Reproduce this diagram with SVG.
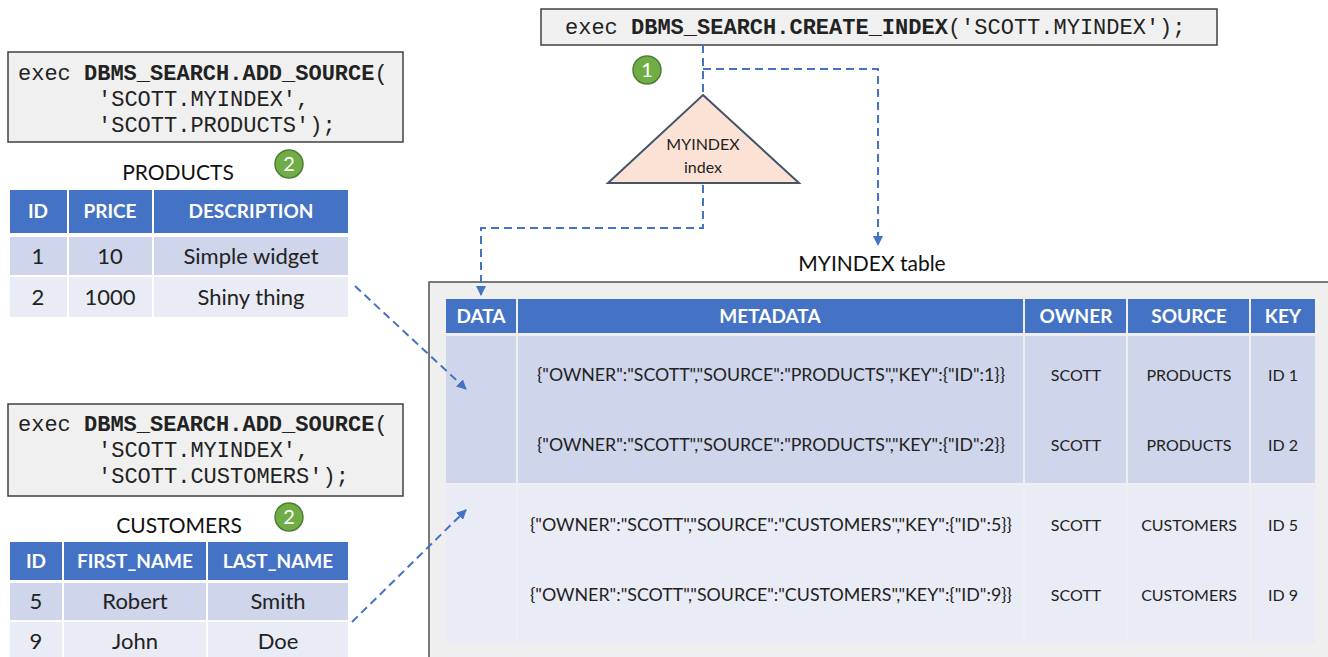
<svg xmlns="http://www.w3.org/2000/svg" width="1328" height="657" viewBox="0 0 1328 657">
<style>
.code{fill:#f0f0f0;stroke:#404040;stroke-width:1.5}
.mono{font-family:"Liberation Mono","Courier New",monospace;font-size:22px;fill:#222}
.b{font-weight:bold}
.lbl{font-family:Lato,"Open Sans",sans-serif;font-size:21px;fill:#111;text-anchor:middle}
.hdr{fill:#4472c4}
.ht{font-family:Lato,"Open Sans",sans-serif;font-size:19px;font-weight:bold;fill:#fff;text-anchor:middle}
.r1{fill:#cfd5ea}
.r2{fill:#e9ebf5}
.ct{font-family:Lato,"Open Sans",sans-serif;font-size:22px;fill:#222;text-anchor:middle}
.mt{font-family:Lato,"Open Sans",sans-serif;font-size:16px;fill:#222;text-anchor:middle}
.md{font-family:Lato,"Open Sans",sans-serif;font-size:17px;fill:#222;text-anchor:middle}
.green{fill:#70ad47;stroke:#507e32;stroke-width:1.5}
.gt{font-family:Lato,"Open Sans",sans-serif;font-size:20px;fill:#fff;text-anchor:middle}
.dash{fill:none;stroke:#4472c4;stroke-width:2;stroke-dasharray:8 5}
</style>
<defs>
<marker id="ah" viewBox="0 0 10 10" refX="9" refY="5" markerWidth="5" markerHeight="5" orient="auto">
<path d="M0,0 L10,5 L0,10 z" fill="#4472c4"/>
</marker>
</defs>

<g id="create-index">
<rect class="code" x="541" y="9" width="676" height="36"/>
<text class="mono" x="565" y="34">exec <tspan class="b">DBMS_SEARCH.CREATE_INDEX</tspan>('SCOTT.MYINDEX');</text>
</g>

<g id="step1">
<circle class="green" cx="647" cy="70" r="14"/>
<text class="gt" x="647" y="77">1</text>
</g>

<g id="myindex-index">
<polygon points="703,95 799,183 608,183" fill="#fbe2d5" stroke="#44546a" stroke-width="2"/>
<text class="mt" x="703" y="150">MYINDEX</text>
<text class="mt" x="703" y="173">index</text>
</g>

<g id="add-products">
<rect class="code" x="8" y="52" width="395" height="90"/>
<text class="mono" x="18" y="80">exec <tspan class="b">DBMS_SEARCH.ADD_SOURCE</tspan>(</text>
<text class="mono" x="98" y="106">'SCOTT.MYINDEX',</text>
<text class="mono" x="98" y="132">'SCOTT.PRODUCTS');</text>
</g>

<g id="products">
<text class="lbl" x="178" y="180">PRODUCTS</text>
<circle class="green" cx="289" cy="164" r="14"/>
<text class="gt" x="289" y="171">2</text>
<rect class="hdr" x="10" y="190" width="57" height="43"/>
<rect class="hdr" x="69" y="190" width="83" height="43"/>
<rect class="hdr" x="154" y="190" width="194" height="43"/>
<text class="ht" x="38" y="218">ID</text>
<text class="ht" x="110" y="218">PRICE</text>
<text class="ht" x="251" y="218">DESCRIPTION</text>
<rect class="r1" x="10" y="237" width="57" height="38"/>
<rect class="r1" x="69" y="237" width="83" height="38"/>
<rect class="r1" x="154" y="237" width="194" height="38"/>
<rect class="r2" x="10" y="277" width="57" height="40"/>
<rect class="r2" x="69" y="277" width="83" height="40"/>
<rect class="r2" x="154" y="277" width="194" height="40"/>
<text class="ct" x="38" y="264">1</text>
<text class="ct" x="110" y="264">10</text>
<text class="ct" x="251" y="264">Simple widget</text>
<text class="ct" x="38" y="305">2</text>
<text class="ct" x="110" y="305">1000</text>
<text class="ct" x="251" y="305">Shiny thing</text>
</g>

<g id="add-customers">
<rect class="code" x="8" y="404" width="395" height="92"/>
<text class="mono" x="18" y="431">exec <tspan class="b">DBMS_SEARCH.ADD_SOURCE</tspan>(</text>
<text class="mono" x="98" y="457">'SCOTT.MYINDEX',</text>
<text class="mono" x="98" y="483">'SCOTT.CUSTOMERS');</text>
</g>

<g id="customers">
<text class="lbl" x="179" y="533">CUSTOMERS</text>
<circle class="green" cx="289" cy="517" r="14"/>
<text class="gt" x="289" y="524">2</text>
<rect class="hdr" x="10" y="542" width="52" height="38"/>
<rect class="hdr" x="64" y="542" width="142" height="38"/>
<rect class="hdr" x="208" y="542" width="140" height="38"/>
<text class="ht" x="36" y="568">ID</text>
<text class="ht" x="135" y="568">FIRST_NAME</text>
<text class="ht" x="278" y="568">LAST_NAME</text>
<rect class="r1" x="10" y="583" width="52" height="37"/>
<rect class="r1" x="64" y="583" width="142" height="37"/>
<rect class="r1" x="208" y="583" width="140" height="37"/>
<rect class="r2" x="10" y="622" width="52" height="40"/>
<rect class="r2" x="64" y="622" width="142" height="40"/>
<rect class="r2" x="208" y="622" width="140" height="40"/>
<text class="ct" x="36" y="609">5</text>
<text class="ct" x="135" y="609">Robert</text>
<text class="ct" x="278" y="609">Smith</text>
<text class="ct" x="36" y="649">9</text>
<text class="ct" x="135" y="649">John</text>
<text class="ct" x="278" y="649">Doe</text>
</g>

<g id="myindex-table">
<text class="lbl" x="872" y="271">MYINDEX table</text>
<rect x="429" y="282" width="910" height="390" fill="#efefef" stroke="#505050" stroke-width="1.5"/>
<rect class="hdr" x="446" y="299" width="70" height="34"/>
<rect class="hdr" x="518" y="299" width="505" height="34"/>
<rect class="hdr" x="1025" y="299" width="101" height="34"/>
<rect class="hdr" x="1128" y="299" width="121" height="34"/>
<rect class="hdr" x="1251" y="299" width="64" height="34"/>
<text class="ht" x="481" y="323">DATA</text>
<text class="ht" x="770" y="323">METADATA</text>
<text class="ht" x="1076" y="323">OWNER</text>
<text class="ht" x="1189" y="323">SOURCE</text>
<text class="ht" x="1283" y="323">KEY</text>
<rect class="r1" x="446" y="336" width="70" height="147"/>
<rect class="r1" x="518" y="336" width="505" height="147"/>
<rect class="r1" x="1025" y="336" width="101" height="147"/>
<rect class="r1" x="1128" y="336" width="121" height="147"/>
<rect class="r1" x="1251" y="336" width="64" height="147"/>
<rect class="r2" x="446" y="485" width="70" height="158"/>
<rect class="r2" x="518" y="485" width="505" height="158"/>
<rect class="r2" x="1025" y="485" width="101" height="158"/>
<rect class="r2" x="1128" y="485" width="121" height="158"/>
<rect class="r2" x="1251" y="485" width="64" height="158"/>
<text class="md" x="771" y="381" textLength="468" lengthAdjust="spacingAndGlyphs">{"OWNER":"SCOTT","SOURCE":"PRODUCTS","KEY":{"ID":1}}</text>
<text class="md" x="771" y="451" textLength="468" lengthAdjust="spacingAndGlyphs">{"OWNER":"SCOTT","SOURCE":"PRODUCTS","KEY":{"ID":2}}</text>
<text class="md" x="771" y="531" textLength="482" lengthAdjust="spacingAndGlyphs">{"OWNER":"SCOTT","SOURCE":"CUSTOMERS","KEY":{"ID":5}}</text>
<text class="md" x="771" y="601" textLength="482" lengthAdjust="spacingAndGlyphs">{"OWNER":"SCOTT","SOURCE":"CUSTOMERS","KEY":{"ID":9}}</text>
<text class="mt" x="1076" y="381">SCOTT</text>
<text class="mt" x="1076" y="451">SCOTT</text>
<text class="mt" x="1076" y="531">SCOTT</text>
<text class="mt" x="1076" y="601">SCOTT</text>
<text class="mt" x="1189" y="381">PRODUCTS</text>
<text class="mt" x="1189" y="451">PRODUCTS</text>
<text class="mt" x="1189" y="531">CUSTOMERS</text>
<text class="mt" x="1189" y="601">CUSTOMERS</text>
<text class="mt" x="1283" y="381">ID 1</text>
<text class="mt" x="1283" y="451">ID 2</text>
<text class="mt" x="1283" y="531">ID 5</text>
<text class="mt" x="1283" y="601">ID 9</text>
</g>

<g id="connectors">
<path class="dash" d="M703,45 V95"/>
<path class="dash" d="M703,69 H878 V245" marker-end="url(#ah)"/>
<path class="dash" d="M703,185 V228 H481 V295" marker-end="url(#ah)"/>
<path class="dash" d="M355,286 L466,389" marker-end="url(#ah)"/>
<path class="dash" d="M352,622 L466,510" marker-end="url(#ah)"/>
</g>
</svg>
